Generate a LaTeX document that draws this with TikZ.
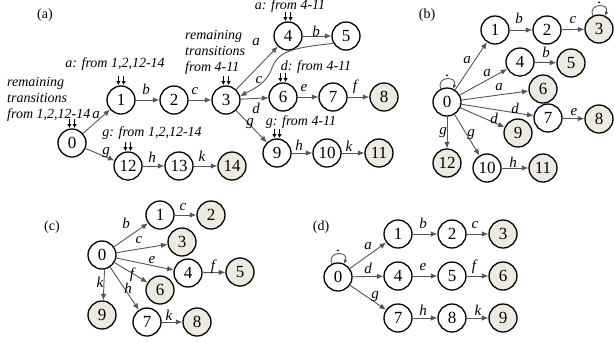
\documentclass[tikz,border=0pt]{standalone}
\usepackage{fontspec}
\setmainfont{Liberation Serif}
\usetikzlibrary{arrows.meta}
\definecolor{accfill}{HTML}{EDEAE0}
\definecolor{edgegray}{HTML}{555555}
\tikzset{
  st/.style={circle, draw, line width=1.3pt, minimum size=28pt, inner sep=0pt, font=\fontsize{17}{17}\selectfont},
  acc/.style={st, fill=accfill},
  edge/.style={draw=edgegray, line width=0.9pt, -{Latex[length=6.5pt,width=5.5pt]}},
  lbl/.style={font=\fontsize{15}{15}\selectfont\itshape, inner sep=0pt},
  note/.style={font=\fontsize{14}{16}\selectfont\itshape, inner sep=0pt, align=left},
  tag/.style={font=\fontsize{14}{14}\selectfont, inner sep=0pt},
  inarr/.style={draw=black, line width=1.3pt, -{Latex[length=4pt,width=4.5pt]}},
  loopedge/.style={draw=edgegray, line width=0.9pt, -{Latex[length=4pt,width=4pt]}}
}
\newcommand{\inmark}[1]{%
  \draw[inarr] ([xshift=-2.6pt,yshift=9pt]#1.north) -- ([xshift=-2.6pt,yshift=0.3pt]#1.north);
  \draw[inarr] ([xshift=2.6pt,yshift=9pt]#1.north) -- ([xshift=2.6pt,yshift=0.3pt]#1.north);}
\newcommand{\selfloop}[1]{%
  \draw[loopedge] (#1.115) .. controls +(-5,13) and +(5,13) .. (#1.65);
  \fill ([yshift=12pt]#1.north) circle (1.1pt);}
\begin{document}
\begin{tikzpicture}[x=1pt,y=1pt]
\useasboundingbox (0,0) rectangle (614,-341);
% ---------------- (a)
\node[tag] (ta) at (45,-15) {(a)};
\node[st] (a0) at (72,-143) {0};
\node[st] (a1) at (121,-100) {1};
\node[st] (a2) at (174,-100) {2};
\node[st] (a3) at (226,-100) {3};
\node[st] (a4) at (288,-36) {4};
\node[st] (a5) at (346,-36) {5};
\node[st] (a6) at (283,-97) {6};
\node[st] (a7) at (333,-97) {7};
\node[acc] (a8) at (384,-97) {8};
\node[st] (a9) at (277,-153) {9};
\node[st] (a10) at (327,-153) {10};
\node[acc] (a11) at (379,-153) {11};
\node[st] (a12) at (128,-166) {12};
\node[st] (a13) at (179,-166) {13};
\node[acc] (a14) at (232,-166) {14};
\inmark{a0}\inmark{a1}\inmark{a3}\inmark{a4}\inmark{a6}\inmark{a9}\inmark{a12}
\draw[edge] (a0) -- (a1);
\draw[edge] (a0) -- (a12);
\draw[edge] (a1) -- (a2);
\draw[edge] (a2) -- (a3);
\draw[edge] (a3) -- (a4);
\draw[edge] (a4) -- (a5);
\draw[edge] (a5.210) .. controls (290,-48) and (278,-52) .. (272,-68) .. controls (266,-84) and (255,-88) .. (a3.15);
\draw[edge] (a3) -- (a6);
\draw[edge] (a6) -- (a7);
\draw[edge] (a7) -- (a8);
\draw[edge] (a3) -- (a9);
\draw[edge] (a9) -- (a10);
\draw[edge] (a10) -- (a11);
\draw[edge] (a12) -- (a13);
\draw[edge] (a13) -- (a14);
\node[note, anchor=west] (na0) at (7,-99) {remaining\\transitions\\from 1,2,12-14};
\node[note] (na1) at (115,-64) {a: from 1,2,12-14};
\node[note] (na12) at (152,-133) {g: from 1,2,12-14};
\node[note, anchor=west] (na3) at (185,-52) {remaining\\transitions\\from 4-11};
\node[note] (na4) at (290,-6) {a: from 4-11};
\node[note] (na6) at (316,-67) {d: from 4-11};
\node[note] (na9) at (301,-122) {g: from 4-11};
\node[lbl] (la01) at (96,-115) {a};
\node[lbl] (la012) at (106,-153) {g};
\node[lbl] (la12) at (146,-89) {b};
\node[lbl] (la23) at (195,-91) {c};
\node[lbl] (la1213) at (152,-157) {h};
\node[lbl] (la1314) at (202,-156) {k};
\node[lbl] (la34) at (256,-42) {a};
\node[lbl] (la45) at (316,-31) {b};
\node[lbl] (la53) at (259,-80) {c};
\node[lbl] (la36) at (256,-108) {d};
\node[lbl] (la67) at (304,-88) {e};
\node[lbl] (la78) at (355,-87) {f};
\node[lbl] (la39) at (250,-124) {g};
\node[lbl] (la910) at (299,-145) {h};
\node[lbl] (la1011) at (349,-146) {k};
% ---------------- (b)
\node[tag] (tb) at (427,-15) {(b)};
\node[st] (b0) at (447,-102) {0};
\node[st] (b1) at (495,-30) {1};
\node[st] (b2) at (547,-30) {2};
\node[acc] (b3) at (599,-29) {3};
\node[st] (b4) at (520,-62) {4};
\node[acc] (b5) at (571,-63) {5};
\node[acc] (b6) at (543,-89) {6};
\node[st] (b7) at (548,-118) {7};
\node[acc] (b8) at (599,-119) {8};
\node[acc] (b9) at (518,-133) {9};
\node[st] (b10) at (487,-168) {10};
\node[acc] (b11) at (543,-168) {11};
\node[acc] (b12) at (447,-163) {12};
\selfloop{b0}\selfloop{b3}
\draw[edge] (b0) -- (b1);
\draw[edge] (b0) -- (b4);
\draw[edge] (b0) -- (b6);
\draw[edge] (b0) -- (b7);
\draw[edge] (b0) -- (b9);
\draw[edge] (b0) -- (b12);
\draw[edge] (b0) -- (b10);
\draw[edge] (b1) -- (b2);
\draw[edge] (b2) -- (b3);
\draw[edge] (b4) -- (b5);
\draw[edge] (b7) -- (b8);
\draw[edge] (b10) -- (b11);
\node[lbl] (lb01) at (467,-60) {a};
\node[lbl] (lb04) at (487,-73) {a};
\node[lbl] (lb06) at (499,-87) {a};
\node[lbl] (lb07) at (515,-108) {d};
\node[lbl] (lb09) at (494,-118) {d};
\node[lbl] (lb012) at (443,-133) {g};
\node[lbl] (lb010) at (471,-135) {g};
\node[lbl] (lb12) at (519,-18) {b};
\node[lbl] (lb23) at (573,-20) {c};
\node[lbl] (lb45) at (546,-52) {b};
\node[lbl] (lb78) at (574,-112) {e};
\node[lbl] (lb1011) at (513,-162) {h};
% ---------------- (c)
\node[tag] (tc) at (52,-227) {(c)};
\node[st] (c0) at (102,-255) {0};
\node[st] (c1) at (160,-215) {1};
\node[acc] (c2) at (211,-215) {2};
\node[acc] (c3) at (182,-242) {3};
\node[st] (c4) at (188,-273) {4};
\node[acc] (c5) at (240,-272) {5};
\node[acc] (c6) at (160,-290) {6};
\node[st] (c7) at (147,-322) {7};
\node[acc] (c8) at (197,-322) {8};
\node[acc] (c9) at (102,-315) {9};
\draw[edge] (c0) -- (c1);
\draw[edge] (c0) -- (c3);
\draw[edge] (c0) -- (c4);
\draw[edge] (c0) -- (c6);
\draw[edge] (c0) -- (c7);
\draw[edge] (c0.-80) -- (c9.85);
\draw[edge] (c1) -- (c2);
\draw[edge] (c4) -- (c5);
\draw[edge] (c7) -- (c8);
\node[lbl] (lc01) at (126,-223) {b};
\node[lbl] (lc03) at (139,-240) {c};
\node[lbl] (lc04) at (152,-260) {e};
\node[lbl] (lc06) at (132,-275) {f};
\node[lbl] (lc07) at (128,-288) {h};
\node[lbl] (lc09) at (100,-282) {k};
\node[lbl] (lc12) at (183,-207) {c};
\node[lbl] (lc45) at (213,-267) {f};
\node[lbl] (lc78) at (169,-315) {k};
% ---------------- (d)
\node[tag] (td) at (321,-227) {(d)};
\node[st] (d0) at (338,-277) {0};
\node[st] (d1) at (398,-234) {1};
\node[st] (d2) at (452,-234) {2};
\node[acc] (d3) at (503,-234) {3};
\node[st] (d4) at (398,-276) {4};
\node[st] (d5) at (452,-276) {5};
\node[acc] (d6) at (503,-276) {6};
\node[st] (d7) at (398,-318) {7};
\node[st] (d8) at (452,-318) {8};
\node[acc] (d9) at (503,-318) {9};
\selfloop{d0}
\draw[edge] (d0) -- (d1);
\draw[edge] (d0) -- (d4);
\draw[edge] (d0) -- (d7);
\draw[edge] (d1) -- (d2);
\draw[edge] (d2) -- (d3);
\draw[edge] (d4) -- (d5);
\draw[edge] (d5) -- (d6);
\draw[edge] (d7) -- (d8);
\draw[edge] (d8) -- (d9);
\node[lbl] (ld01) at (368,-246) {a};
\node[lbl] (ld04) at (368,-268) {d};
\node[lbl] (ld07) at (375,-297) {g};
\node[lbl] (ld12) at (423,-223) {b};
\node[lbl] (ld23) at (475,-225) {c};
\node[lbl] (ld45) at (423,-267) {e};
\node[lbl] (ld56) at (474,-267) {f};
\node[lbl] (ld78) at (423,-310) {h};
\node[lbl] (ld89) at (478,-310) {k};
\end{tikzpicture}
\end{document}
